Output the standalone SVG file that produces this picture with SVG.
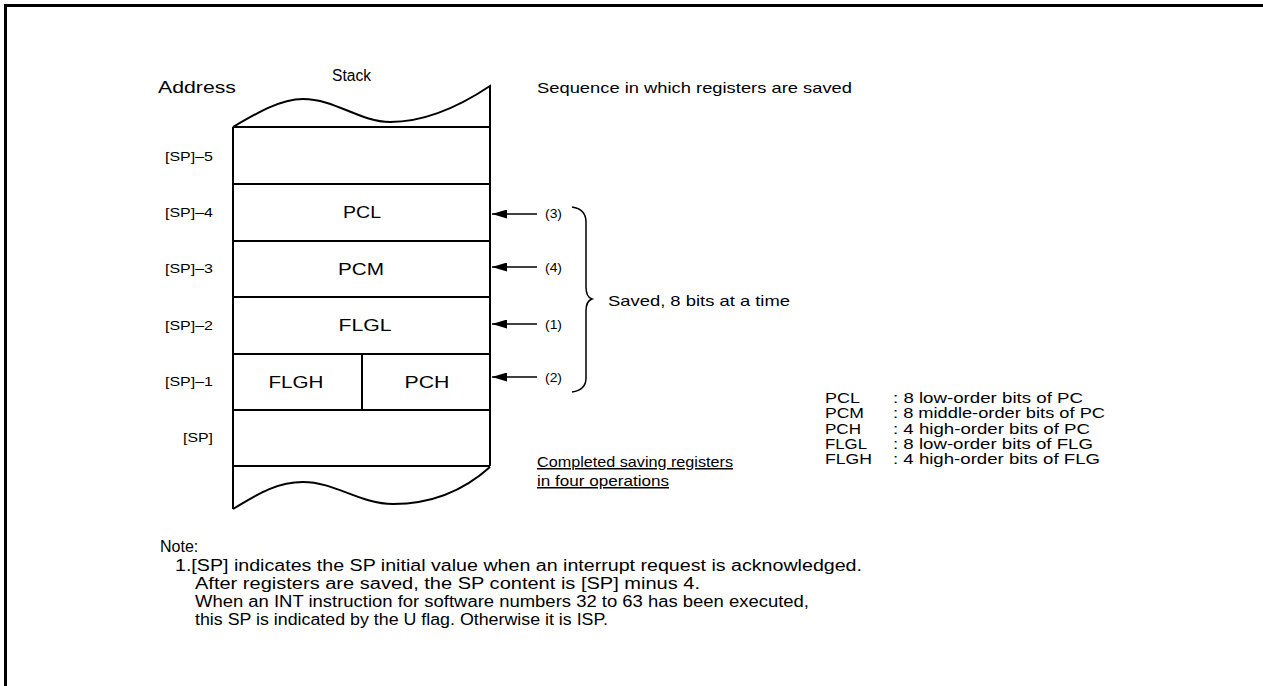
<svg xmlns="http://www.w3.org/2000/svg" width="1263" height="686" viewBox="0 0 1263 686">
<style>
text{font-family:"Liberation Sans",Arial,sans-serif;fill:#000}
.ln{stroke:#000;stroke-width:2;fill:none}
.ar{stroke:#000;stroke-width:1.5;fill:none}
.t15{font-size:15px}
.cell{font-size:17px;text-anchor:middle}
.lab{font-size:13.5px;text-anchor:end}
.num{font-size:13px}
.leg{font-size:15px}
.note{font-size:16px}
</style>
<defs>
<marker id="ah" viewBox="0 0 15 9" refX="15" refY="4.5" markerWidth="15" markerHeight="9" markerUnits="userSpaceOnUse" orient="auto" preserveAspectRatio="none">
<path d="M0,0 L15,4.5 L0,9 Z" fill="#000"/>
</marker>
</defs>
<rect width="1263" height="686" fill="#fff"/>
<rect x="5.5" y="5.5" width="1300" height="700" fill="none" stroke="#000" stroke-width="3"/>
<text x="158" y="93" font-size="16.5" textLength="78" lengthAdjust="spacingAndGlyphs">Address</text>
<text x="332" y="81" font-size="16" textLength="39" lengthAdjust="spacingAndGlyphs">Stack</text>
<text class="t15" x="537" y="93" textLength="315" lengthAdjust="spacingAndGlyphs">Sequence in which registers are saved</text>
<g id="stack">
<path class="ln" d="M233,127 C255,114 280,99 303,99 C335,99 360,122 390,122 C425,122 460,106 490,86 L490,466 M233,127 L233,509 M490,467 C470,485 440,504 393,504 C360,504 335,482 303,482 C275,482 255,496 233,509 M233,127 H490 M233,184 H490 M233,241 H490 M233,297 H490 M233,354 H490 M233,410 H490 M233,466 H490 M362,354 V410"/>
</g>
<g id="labels" class="lab">
<text x="213" y="161" textLength="48" lengthAdjust="spacingAndGlyphs">[SP]–5</text>
<text x="213" y="217" textLength="48" lengthAdjust="spacingAndGlyphs">[SP]–4</text>
<text x="213" y="273" textLength="48" lengthAdjust="spacingAndGlyphs">[SP]–3</text>
<text x="213" y="330" textLength="48" lengthAdjust="spacingAndGlyphs">[SP]–2</text>
<text x="213" y="386" textLength="48" lengthAdjust="spacingAndGlyphs">[SP]–1</text>
<text x="213" y="442" textLength="30" lengthAdjust="spacingAndGlyphs">[SP]</text>
</g>
<g id="cells" class="cell">
<text x="362" y="218" textLength="38" lengthAdjust="spacingAndGlyphs">PCL</text>
<text x="361" y="275" textLength="46" lengthAdjust="spacingAndGlyphs">PCM</text>
<text x="365" y="331" textLength="53" lengthAdjust="spacingAndGlyphs">FLGL</text>
<text x="296" y="388" textLength="55" lengthAdjust="spacingAndGlyphs">FLGH</text>
<text x="427" y="388" textLength="45" lengthAdjust="spacingAndGlyphs">PCH</text>
</g>
<g id="connectors">
<line class="ar" x1="537" y1="214" x2="492" y2="214" marker-end="url(#ah)"/>
<line class="ar" x1="537" y1="267" x2="492" y2="267" marker-end="url(#ah)"/>
<line class="ar" x1="537" y1="324" x2="492" y2="324" marker-end="url(#ah)"/>
<line class="ar" x1="537" y1="377" x2="492" y2="377" marker-end="url(#ah)"/>
</g>
<g id="nums" class="num">
<text x="545" y="218" textLength="17" lengthAdjust="spacingAndGlyphs">(3)</text>
<text x="545" y="272" textLength="17" lengthAdjust="spacingAndGlyphs">(4)</text>
<text x="545" y="329" textLength="17" lengthAdjust="spacingAndGlyphs">(1)</text>
<text x="545" y="382" textLength="17" lengthAdjust="spacingAndGlyphs">(2)</text>
</g>
<path id="brace" class="ar" d="M572,207 Q586,209 586,222 L586,287 Q586,297 592,299 Q586,301 586,311 L586,378 Q586,390 572,392"/>
<text class="t15" x="608" y="306" textLength="182" lengthAdjust="spacingAndGlyphs">Saved, 8 bits at a time</text>
<g id="legend" class="leg">
<text x="825" y="403" textLength="35" lengthAdjust="spacingAndGlyphs">PCL</text><text x="893" y="403" textLength="190" lengthAdjust="spacingAndGlyphs">: 8 low-order bits of PC</text>
<text x="825" y="418" textLength="39" lengthAdjust="spacingAndGlyphs">PCM</text><text x="893" y="418" textLength="212" lengthAdjust="spacingAndGlyphs">: 8 middle-order bits of PC</text>
<text x="825" y="434" textLength="36" lengthAdjust="spacingAndGlyphs">PCH</text><text x="893" y="434" textLength="197" lengthAdjust="spacingAndGlyphs">: 4 high-order bits of PC</text>
<text x="825" y="449" textLength="42" lengthAdjust="spacingAndGlyphs">FLGL</text><text x="893" y="449" textLength="200" lengthAdjust="spacingAndGlyphs">: 8 low-order bits of FLG</text>
<text x="825" y="464" textLength="47" lengthAdjust="spacingAndGlyphs">FLGH</text><text x="893" y="464" textLength="207" lengthAdjust="spacingAndGlyphs">: 4 high-order bits of FLG</text>
</g>
<g id="completed">
<text class="t15" x="537" y="467" text-decoration="underline" textLength="196" lengthAdjust="spacingAndGlyphs">Completed saving registers</text>
<text class="t15" x="537" y="486" text-decoration="underline" textLength="132" lengthAdjust="spacingAndGlyphs">in four operations</text>
</g>
<g id="note" class="note">
<text x="160" y="552">Note:</text>
<text x="175" y="571" textLength="687" lengthAdjust="spacingAndGlyphs">1.[SP] indicates the SP initial value when an interrupt request is acknowledged.</text>
<text x="195" y="589" textLength="505" lengthAdjust="spacingAndGlyphs">After registers are saved, the SP content is [SP] minus 4.</text>
<text x="195" y="607" textLength="614" lengthAdjust="spacingAndGlyphs">When an INT instruction for software numbers 32 to 63 has been executed,</text>
<text x="195" y="625" textLength="413" lengthAdjust="spacingAndGlyphs">this SP is indicated by the U flag. Otherwise it is ISP.</text>
</g>
</svg>
